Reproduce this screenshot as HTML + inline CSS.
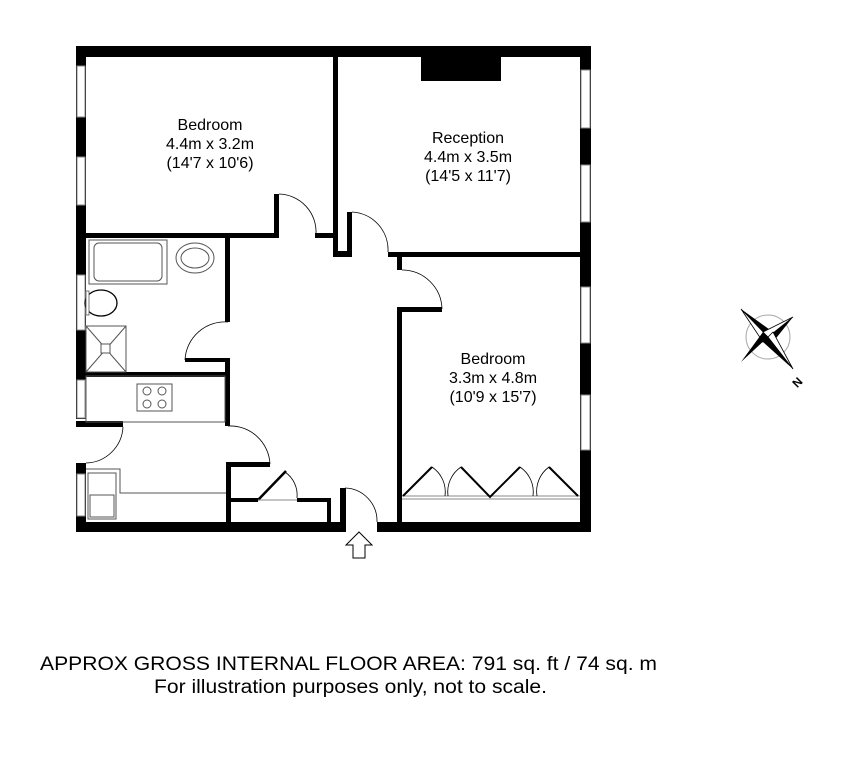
<!DOCTYPE html>
<html><head><meta charset="utf-8"><style>
html,body{margin:0;padding:0;background:#fff;}
svg{display:block;}
text{font-family:"Liberation Sans",Arial,sans-serif;fill:#000;}
</style></head><body>
<svg width="844" height="757" viewBox="0 0 844 757" xmlns="http://www.w3.org/2000/svg">
<g fill="#000">
<rect x="76" y="46" width="515" height="11"/>
<rect x="580" y="46" width="11" height="486"/>
<rect x="76" y="46" width="10" height="373"/>
<rect x="76" y="463" width="10" height="69"/>
<rect x="76" y="522" width="270" height="10"/>
<rect x="377" y="522" width="214" height="10"/>
<rect x="76" y="421" width="47" height="6"/>
<rect x="421" y="57" width="80" height="24"/>
<rect x="333" y="57" width="5" height="200"/>
<rect x="333" y="251" width="19" height="6"/>
<rect x="347" y="212" width="5" height="45"/>
<rect x="388" y="252" width="192" height="5"/>
<rect x="397" y="252" width="5" height="18"/>
<rect x="397" y="307" width="45" height="5"/>
<rect x="397" y="307" width="5" height="215"/>
<rect x="86" y="233" width="192" height="5"/>
<rect x="274" y="194" width="5" height="44"/>
<rect x="315" y="233" width="23" height="5"/>
<rect x="225" y="238" width="5" height="84"/>
<rect x="185" y="358" width="45" height="4"/>
<rect x="225" y="358" width="5" height="68"/>
<rect x="86" y="372" width="144" height="5"/>
<rect x="228" y="462" width="42" height="5"/>
<rect x="226" y="462" width="5" height="60"/>
<rect x="230" y="498" width="28" height="4"/>
<rect x="297" y="498" width="34" height="4"/>
<rect x="327" y="498" width="4" height="24"/>
<rect x="340" y="488" width="6" height="40"/>
</g>
<g fill="#fff" stroke="#888" stroke-width="1">
<rect x="77" y="66" width="8" height="51"/>
<rect x="77" y="157" width="8" height="48"/>
<rect x="77" y="275" width="8" height="55"/>
<rect x="77" y="380" width="8" height="38"/>
<rect x="77" y="474" width="8" height="42"/>
<rect x="581" y="70" width="9" height="58"/>
<rect x="581" y="165" width="9" height="57"/>
<rect x="581" y="287" width="9" height="56"/>
<rect x="581" y="395" width="9" height="55"/>
</g>
<g fill="none" stroke="#000" stroke-width="0.8">
<path d="M279,194 A38,38 0 0 1 316,234"/>
<path d="M352,212 A38,38 0 0 1 388,252"/>
<path d="M402,270 A40,40 0 0 1 442,309"/>
<path d="M228,322 A40,40 0 0 0 185,360"/>
<path d="M228,426 A40,40 0 0 1 270,464"/>
<path d="M86,463 A38,38 0 0 0 123,427"/>
<path d="M345,488 A33,33 0 0 1 377,522"/>
<path d="M285,472 A28,28 0 0 1 297,498"/>
</g>
<line x1="258" y1="500" x2="286" y2="471" stroke="#000" stroke-width="2.5"/>
<line x1="258" y1="500" x2="297" y2="500" stroke="#888" stroke-width="1"/>
<g stroke="#888" stroke-width="1" fill="none">
<line x1="402" y1="496" x2="580" y2="496"/>
<line x1="402" y1="499" x2="580" y2="499"/>
</g>
<g stroke="#000" stroke-width="2" fill="none">
<polyline points="403,496 432,467"/>
<polyline points="461,467 490,497 520,467"/>
<polyline points="549,467 578,496"/>
</g>
<g stroke="#000" stroke-width="0.8" fill="none">
<path d="M432,467 A30,30 0 0 1 445,496"/>
<path d="M461,467 A30,30 0 0 0 448,496"/>
<path d="M520,467 A30,30 0 0 1 533,496"/>
<path d="M549,467 A30,30 0 0 0 537,496"/>
</g>
<g fill="none" stroke="#555" stroke-width="1">
<rect x="89" y="240" width="78" height="44"/>
<rect x="94" y="243" width="68" height="38" rx="5"/>
<ellipse cx="195" cy="258" rx="19" ry="15"/>
<ellipse cx="195" cy="258" rx="14" ry="10"/>
<rect x="86" y="326" width="40" height="46"/>
<line x1="86" y1="326" x2="126" y2="372"/><line x1="126" y1="326" x2="86" y2="372"/>
<rect x="101" y="344" width="9" height="9" fill="#fff"/>
<rect x="86" y="376" width="139" height="46"/>
<rect x="137" y="384" width="35" height="27"/>
<circle cx="147" cy="391" r="4"/><circle cx="162" cy="391" r="4"/>
<circle cx="147" cy="404" r="4"/><circle cx="162" cy="404" r="4"/>
<polyline points="86,469 120,469 120,493 226,493"/>
<rect x="88" y="473" width="28" height="46"/>
<rect x="90" y="495" width="24" height="22"/>
</g>
<ellipse cx="101" cy="303" rx="16" ry="13" fill="#fff" stroke="#000" stroke-width="1.3"/>
<rect x="86" y="291" width="3" height="24" fill="#fff" stroke="#555" stroke-width="0.8"/>
<polygon points="359,532 372,545 365,545 365,558 353,558 353,545 346,545" fill="#fff" stroke="#000" stroke-width="1"/>
<g transform="translate(768,337)">
<circle r="22" fill="none" stroke="#aaa" stroke-width="1"/>
<polygon points="-27,-28 5,-5 0,0" fill="#000"/>
<polygon points="-27,-28 -5,5 0,0" fill="#fff" stroke="#000" stroke-width="0.8"/>
<polygon points="-27,25 -5,-5 0,0" fill="#000"/>
<polygon points="25,-20 0,0 5,5" fill="#000"/>
<polygon points="25,-20 -5,-5 0,0" fill="#fff" stroke="#000" stroke-width="0.8"/>
<polygon points="25,32 5,-5 0,0" fill="#fff" stroke="#000" stroke-width="0.8"/>
<polygon points="25,32 -5,5 0,0" fill="#000"/>
<text x="25" y="49" font-size="12" font-weight="bold" transform="rotate(-45 30 45)">N</text>
</g>
<g font-size="16" text-anchor="middle">
<text x="210" y="130">Bedroom</text>
<text x="210" y="149">4.4m x 3.2m</text>
<text x="210" y="168">(14'7 x 10'6)</text>
<text x="468" y="143">Reception</text>
<text x="468" y="162">4.4m x 3.5m</text>
<text x="468" y="181">(14'5 x 11'7)</text>
<text x="493" y="364">Bedroom</text>
<text x="493" y="383">3.3m x 4.8m</text>
<text x="493" y="402">(10'9 x 15'7)</text>
</g>
<text x="40" y="670" font-size="19" textLength="617" lengthAdjust="spacingAndGlyphs">APPROX GROSS INTERNAL FLOOR AREA:  791 sq. ft / 74 sq. m</text>
<text x="154" y="693" font-size="19" textLength="393" lengthAdjust="spacingAndGlyphs">For illustration purposes only, not to scale.</text>
</svg>
</body></html>
